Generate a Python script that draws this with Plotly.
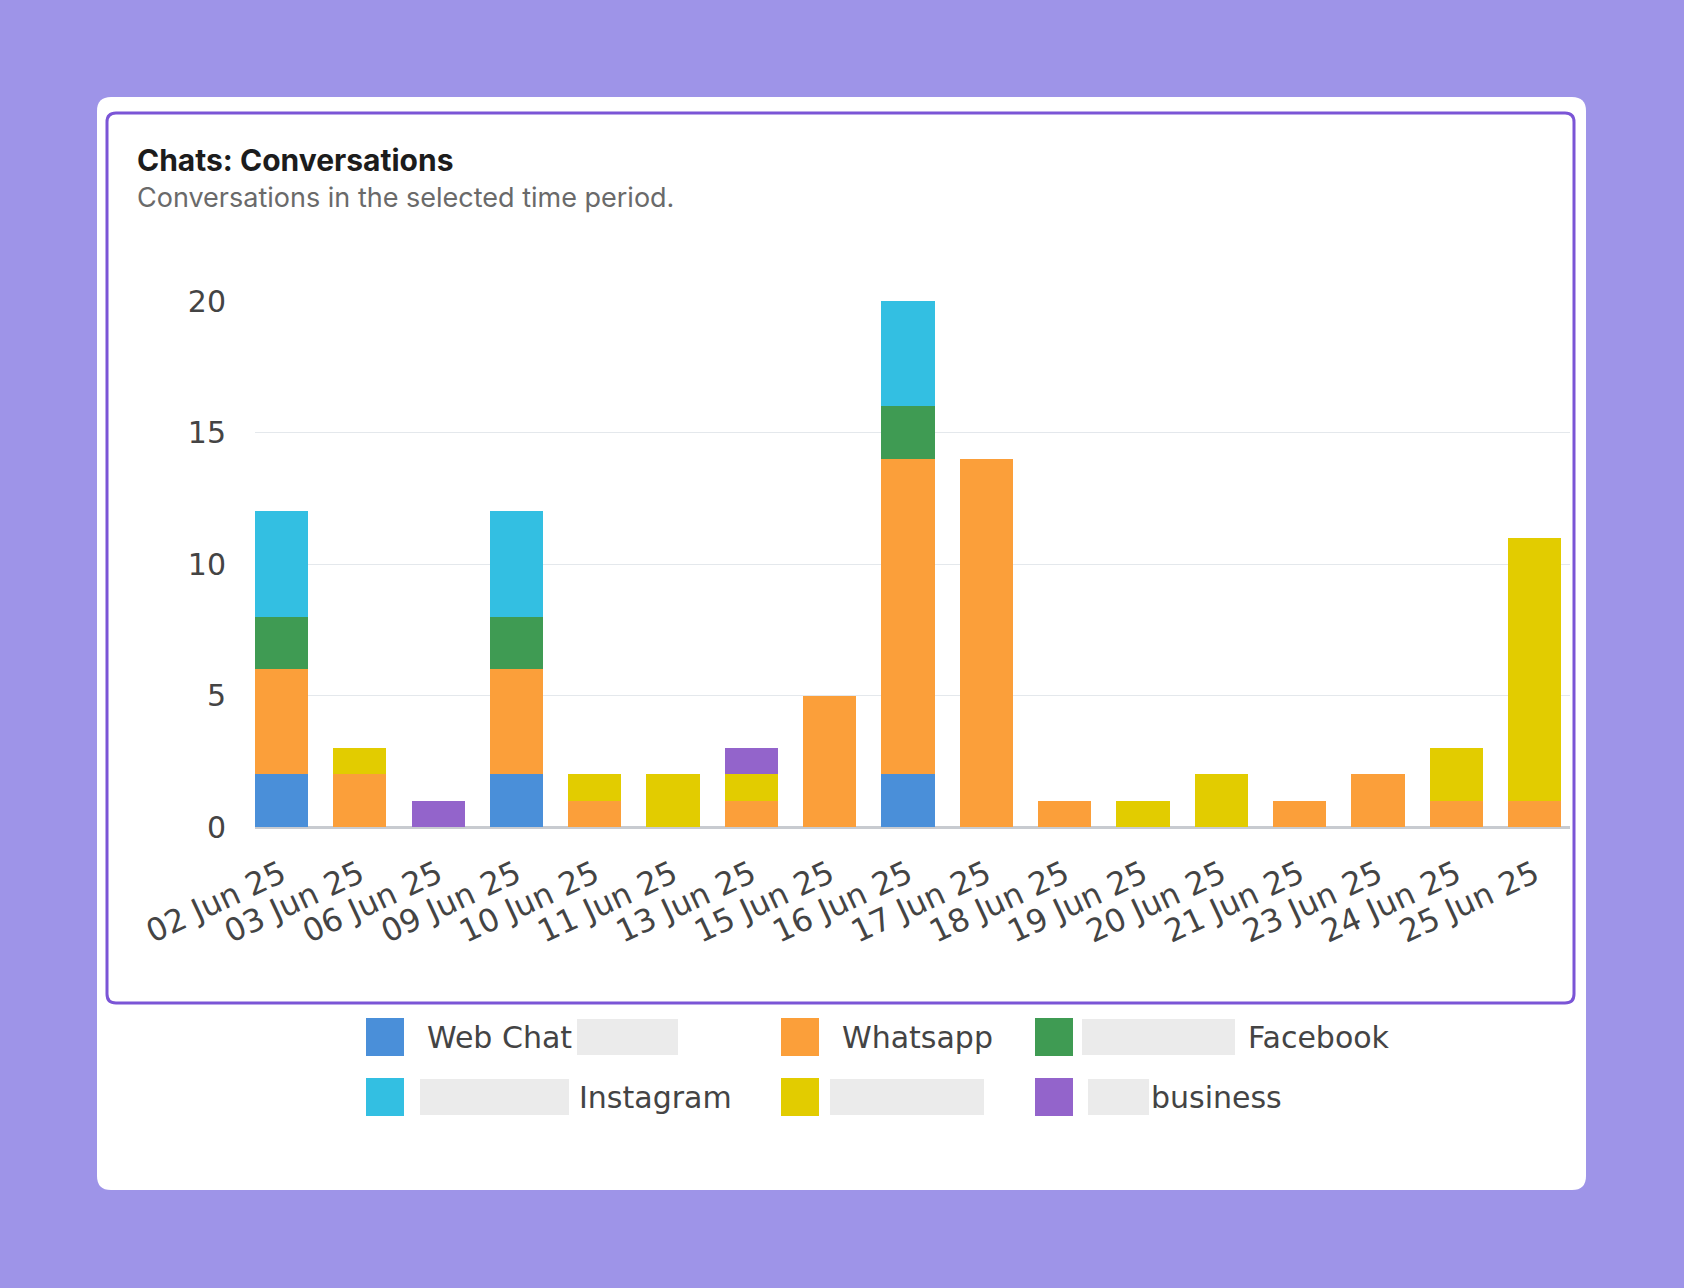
import plotly.graph_objects as go

### Global variables
W, H = 1684, 1288
# plot area in page pixels
PLOT_L, PLOT_R, PLOT_T, PLOT_B = 255, 1570, 301, 827

DATES = [
    "02 Jun 25", "03 Jun 25", "06 Jun 25", "09 Jun 25", "10 Jun 25", "11 Jun 25",
    "13 Jun 25", "15 Jun 25", "16 Jun 25", "17 Jun 25", "18 Jun 25", "19 Jun 25",
    "20 Jun 25", "21 Jun 25", "23 Jun 25", "24 Jun 25", "25 Jun 25",
]
WEB_CHAT = [2, 0, 0, 2, 0, 0, 0, 0, 2, 0, 0, 0, 0, 0, 0, 0, 0]
WHATSAPP = [4, 2, 0, 4, 1, 0, 1, 5, 12, 14, 1, 0, 0, 1, 2, 1, 1]
FACEBOOK = [2, 0, 0, 2, 0, 0, 0, 0, 2, 0, 0, 0, 0, 0, 0, 0, 0]
INSTAGRAM = [4, 0, 0, 4, 0, 0, 0, 0, 4, 0, 0, 0, 0, 0, 0, 0, 0]
HIDDEN = [0, 1, 0, 0, 1, 2, 1, 0, 0, 0, 0, 1, 2, 0, 0, 2, 10]
BUSINESS = [0, 0, 1, 0, 0, 0, 1, 0, 0, 0, 0, 0, 0, 0, 0, 0, 0]

SERIES_NAMES = ["Web Chat", "Whatsapp", "Facebook", "Instagram", " ", "business"]
SERIES_VALUES = [WEB_CHAT, WHATSAPP, FACEBOOK, INSTAGRAM, HIDDEN, BUSINESS]
COLORS = ["#4A8FD9", "#FB9F3A", "#3F9B53", "#33BFE2", "#E2CC00", "#9364CB"]

Y_TICKS = [0, 5, 10, 15, 20]

TITLE = "Chats: Conversations"
SUBTITLE = "Conversations in the selected time period."


### Functions
def px(x):
    """page pixel x -> paper x (paper is the plot area)"""
    return (x - PLOT_L) / (PLOT_R - PLOT_L)


def py(y):
    """page pixel y -> paper y"""
    return (PLOT_B - y) / (PLOT_B - PLOT_T)


def rounded_rect(x0, y0, x1, y1, r):
    """SVG path of a rounded rectangle, pixel coords converted to paper coords."""
    pts = [
        f"M {px(x0 + r)} {py(y0)}",
        f"L {px(x1 - r)} {py(y0)}",
        f"Q {px(x1)} {py(y0)} {px(x1)} {py(y0 + r)}",
        f"L {px(x1)} {py(y1 - r)}",
        f"Q {px(x1)} {py(y1)} {px(x1 - r)} {py(y1)}",
        f"L {px(x0 + r)} {py(y1)}",
        f"Q {px(x0)} {py(y1)} {px(x0)} {py(y1 - r)}",
        f"L {px(x0)} {py(y0 + r)}",
        f"Q {px(x0)} {py(y0)} {px(x0 + r)} {py(y0)}",
        "Z",
    ]
    return " ".join(pts)


fig = go.Figure()

for name, values, color in zip(SERIES_NAMES, SERIES_VALUES, COLORS):
    fig.add_trace(
        go.Bar(
            x=DATES,
            y=values,
            name=name,
            marker=dict(color=color, line=dict(width=0)),
            showlegend=False,
        )
    )

shapes = [
    # white card
    dict(type="path", path=rounded_rect(97, 97, 1586, 1190, 14), xref="paper", yref="paper",
         fillcolor="white", line=dict(width=0), layer="below"),
    # purple inner frame
    dict(type="path", path=rounded_rect(107, 113, 1574, 1003, 9), xref="paper", yref="paper",
         fillcolor="rgba(0,0,0,0)", line=dict(color="#7B55D6", width=3), layer="below"),
]
annotations = [
    dict(text=f"<b>{TITLE}</b>", x=px(135), y=py(160), xref="paper", yref="paper",
         xanchor="left", yanchor="middle", showarrow=False,
         font=dict(family="Inter", size=30, color="#1C1C1C")),
    dict(text=SUBTITLE, x=px(135), y=py(197), xref="paper", yref="paper",
         xanchor="left", yanchor="middle", showarrow=False,
         font=dict(family="Inter", size=27, color="#6A6A6A")),
]

# custom legend: (series index, row y, swatch x, text x, blurred boxes)
legend_items = [
    (0, 1037, 366, 425, [(577, 678)]),
    (1, 1037, 781, 840, []),
    (2, 1037, 1035, 1246, [(1082, 1235)]),
    (3, 1097, 366, 577, [(420, 569)]),
    (4, 1097, 781, None, [(830, 984)]),
    (5, 1097, 1035, 1149, [(1088, 1149)]),
]
for idx, yc, sx, tx, blurs in legend_items:
    shapes.append(dict(type="rect", xref="paper", yref="paper",
                       x0=px(sx), x1=px(sx + 38), y0=py(yc - 19), y1=py(yc + 19),
                       fillcolor=COLORS[idx], line=dict(width=0)))
    for bx0, bx1 in blurs:
        shapes.append(dict(type="rect", xref="paper", yref="paper",
                           x0=px(bx0), x1=px(bx1), y0=py(yc - 18), y1=py(yc + 18),
                           fillcolor="#EBEBEB", line=dict(width=0)))
    if tx is not None and SERIES_NAMES[idx].strip():
        annotations.append(dict(text=SERIES_NAMES[idx], x=px(tx), y=py(yc), xref="paper", yref="paper",
                                xanchor="left", yanchor="middle", showarrow=False,
                                font=dict(family="DejaVu Sans", size=30, color="#444444")))

fig.update_layout(
    width=W,
    height=H,
    barmode="stack",
    bargap=0.32,
    paper_bgcolor="#9E94E8",
    plot_bgcolor="rgba(0,0,0,0)",
    margin=dict(l=PLOT_L, r=W - PLOT_R, t=PLOT_T, b=H - PLOT_B),
    showlegend=False,
    shapes=shapes,
    annotations=annotations,
    xaxis=dict(
        type="category",
        range=[-0.338, 16.45],
        tickangle=-25,
        tickfont=dict(family="DejaVu Sans", size=31.5, color="#444444"),
        showgrid=False,
        showline=False,
        ticks="",
        ticklabelstandoff=22,
        automargin=False,
    ),
    yaxis=dict(
        range=[0, 20],
        tickvals=Y_TICKS,
        gridcolor="#E4E8EC",
        gridwidth=1,
        zeroline=True,
        zerolinecolor="#C8CBD0",
        zerolinewidth=3,
        showline=False,
        ticks="",
        ticklabelstandoff=28,
        tickfont=dict(family="DejaVu Sans", size=30, color="#444444"),
        automargin=False,
    ),
)

fig.write_html(
    "out.html",
    config={"displayModeBar": False},
    post_script="document.body.style.margin='0';",
)
